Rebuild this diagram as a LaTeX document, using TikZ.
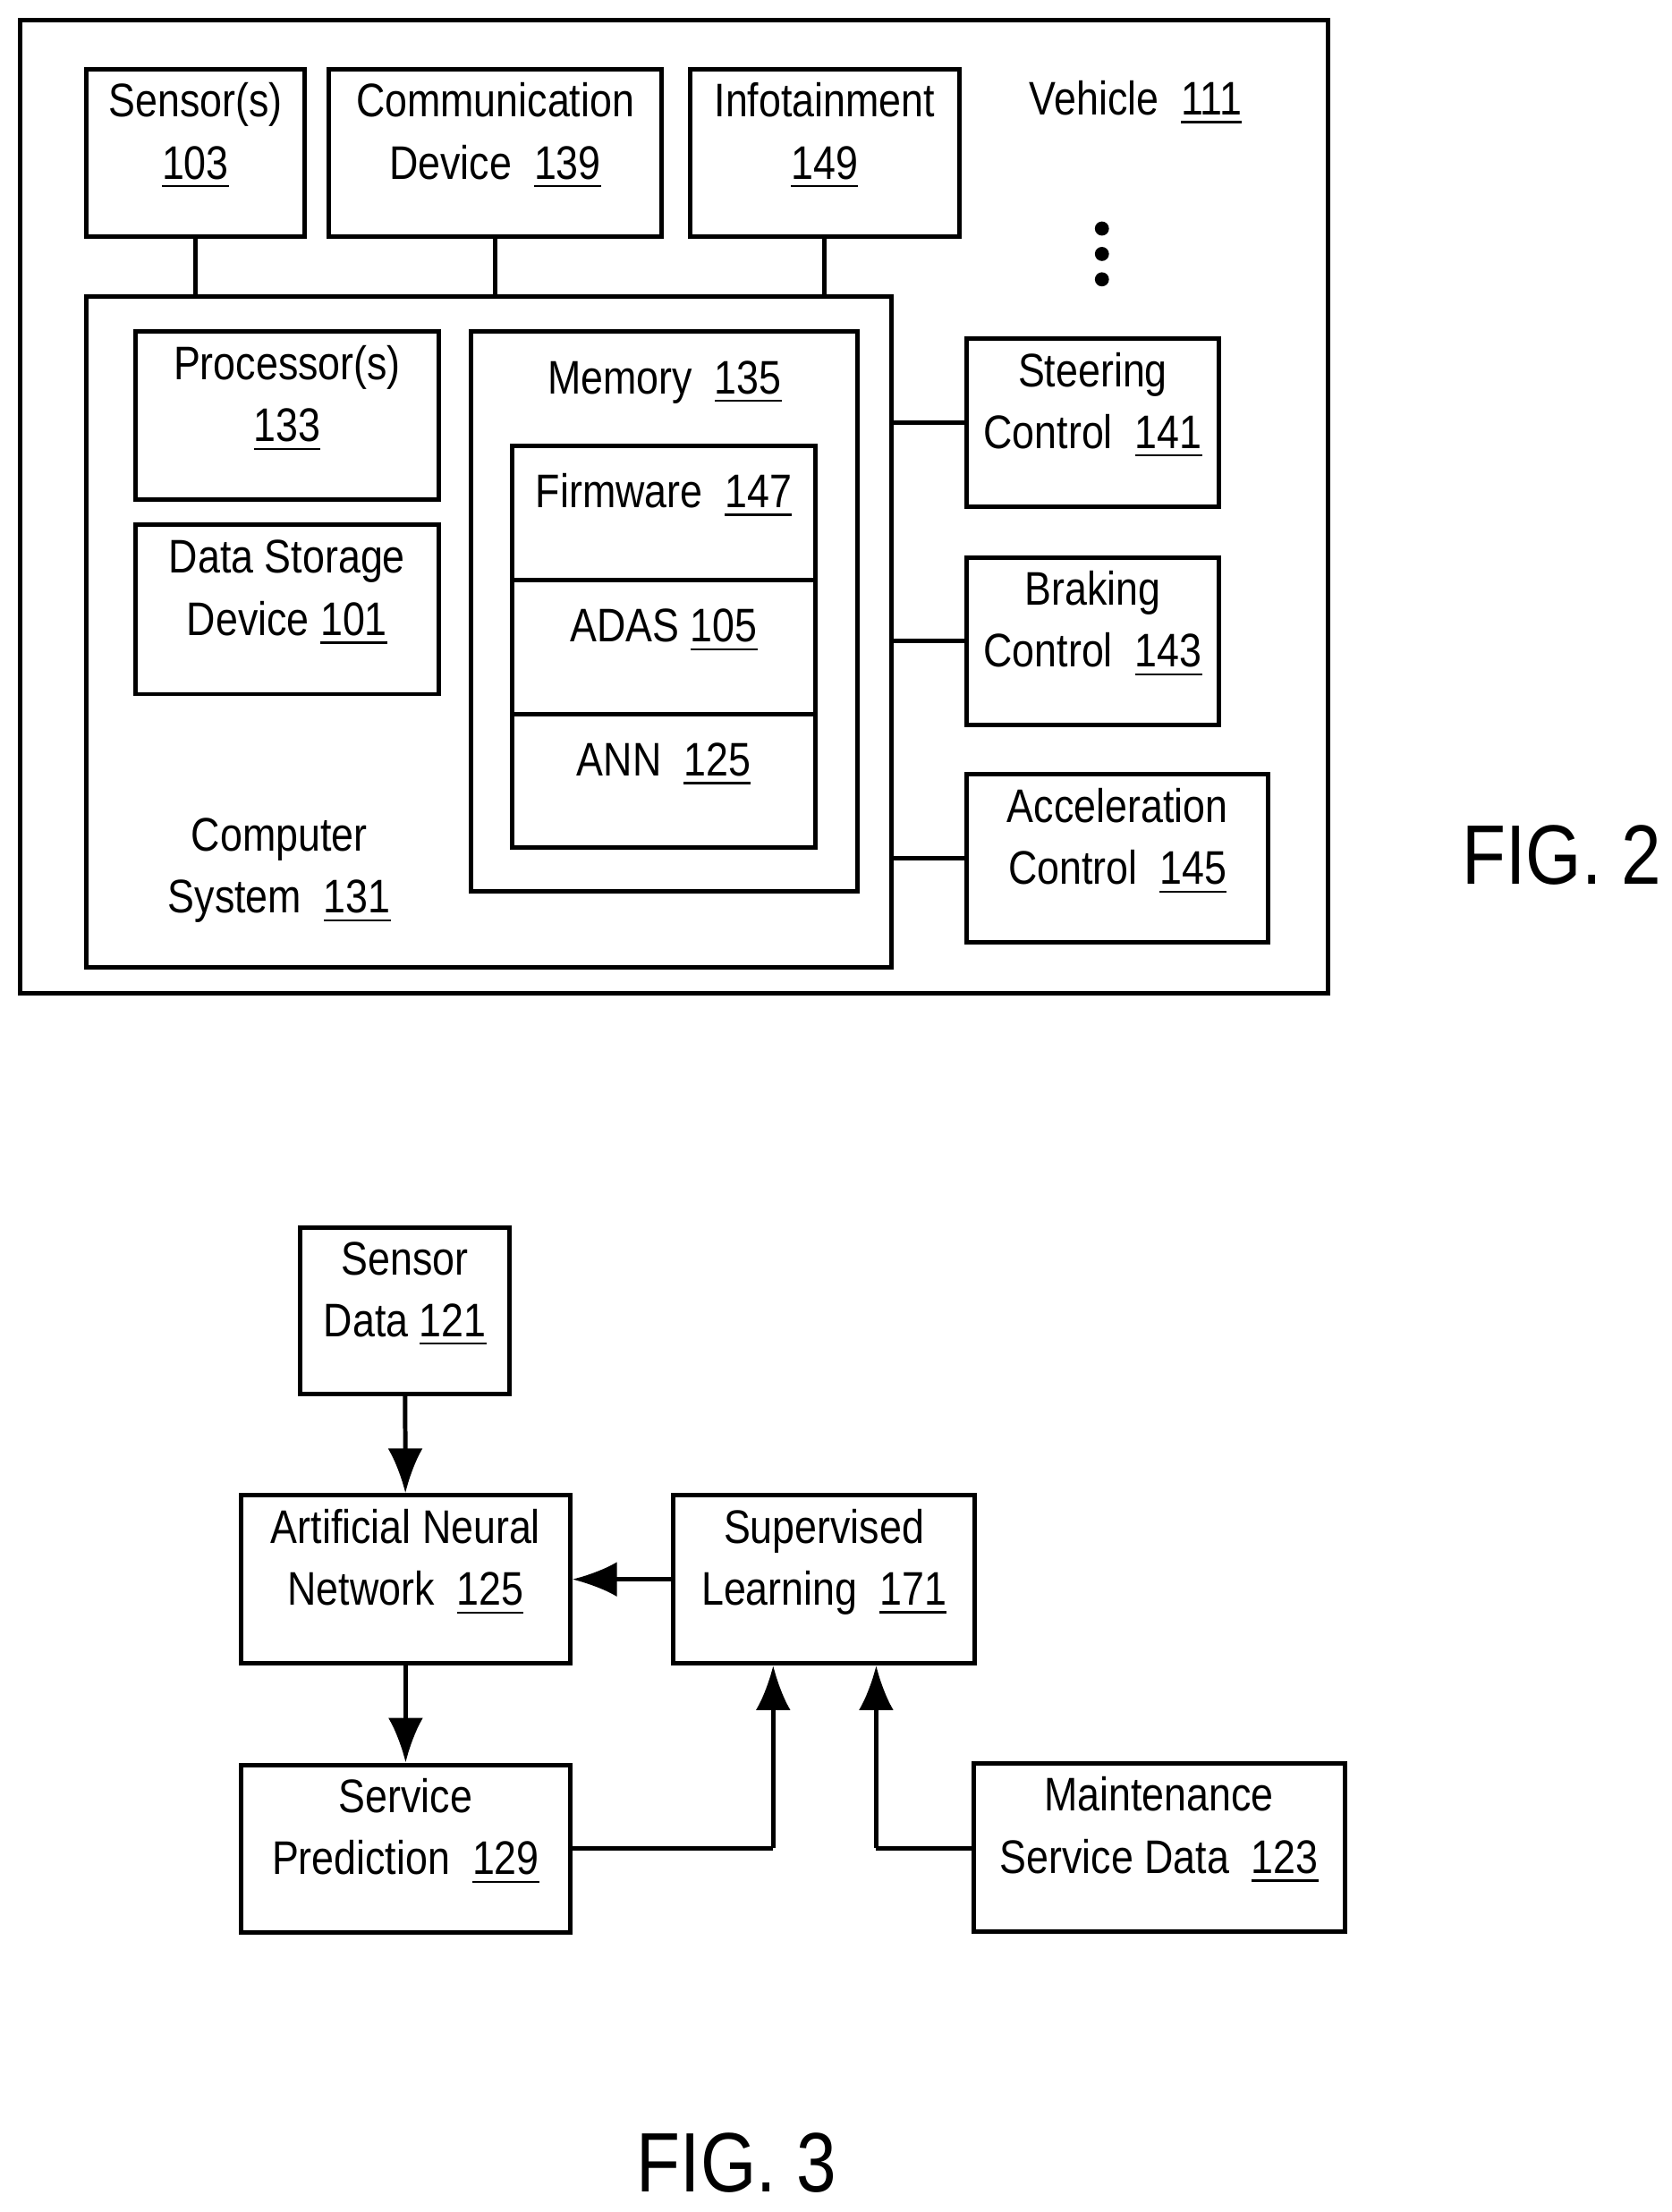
\documentclass[tikz,border=0pt]{standalone}
\usepackage{fontspec}
\setmainfont{Liberation Sans}[FakeStretch=0.85]
\usetikzlibrary{fit,arrows.meta}
\newcommand{\refnum}[1]{\underline{#1}}
\begin{document}
\begin{tikzpicture}[x=0.01cm,y=-0.01cm,
  box/.style={draw,line width=0.9pt,inner sep=0pt,align=center,font=\fontsize{9.5pt}{12.5pt}\selectfont},
  lbl/.style={align=center,font=\fontsize{9.5pt}{12.5pt}\selectfont},
  wire/.style={line width=0.9pt},
  flow/.style={line width=0.9pt,-{Latex[length=9pt,width=7pt]}}]
\useasboundingbox (0,0) rectangle (1185,1568);

% FIG. 2
\node[box,fit={(14,14)(941,704)}] (veh) {};
\node[lbl] (vehl) at (805,73) {Vehicle\ \ \refnum{111}};
\node[box,fit={(61,49)(216,168)}] (sens) {Sensor(s)\\\refnum{103}};
\node[box,fit={(233,49)(469,168)}] (comm) {Communication\\Device\ \ \refnum{139}};
\node[box,fit={(489,49)(680,168)}] (info) {Infotainment\\\refnum{149}};
\foreach \y/\n in {162/a,180/b,198/c}
  \fill (781,\y) circle (5) coordinate (dot\n);

\node[box,fit={(61,210)(632,686)}] (comp) {};
\node[lbl] (compl) at (198,617) {Computer\\System\ \ \refnum{131}};
\node[box,fit={(96,235)(311,354)}] (proc) {Processor(s)\\\refnum{133}};
\node[box,fit={(96,372)(311,492)}] (data) {Data Storage\\Device \refnum{101}};
\node[box,fit={(334,235)(608,632)}] (mem) {};
\node[lbl] (meml) at (471,271) {Memory\ \ \refnum{135}};
\node[box,fit={(363,316)(578,411)}] (firm) {Firmware\ \ \refnum{147}};
\node[box,fit={(363,411)(578,506)}] (adas) {ADAS \refnum{105}};
\node[box,fit={(363,506)(578,601)}] (ann) {ANN\ \ \refnum{125}};

\node[box,fit={(685,240)(864,359)}] (steer) {Steering\\Control\ \ \refnum{141}};
\node[box,fit={(685,395)(864,514)}] (brake) {Braking\\Control\ \ \refnum{143}};
\node[box,fit={(685,549)(899,668)}] (accel) {Acceleration\\Control\ \ \refnum{145}};

\draw[wire] (sens.south) -- (sens.south |- comp.north);
\draw[wire] (comm.south) -- (comm.south |- comp.north);
\draw[wire] (info.south) -- (info.south |- comp.north);
\draw[wire] (steer.west) -- (steer.west -| comp.east);
\draw[wire] (brake.west) -- (brake.west -| comp.east);
\draw[wire] (accel.west) -- (accel.west -| comp.east);

\node[font=\fontsize{17pt}{20pt}\selectfont] (fig2) at (1107,606) {FIG. 2};

% FIG. 3
\node[box,fit={(213,870)(361,988)}] (sdata) {Sensor\\Data \refnum{121}};
\node[box,fit={(171,1060)(404,1179)}] (net) {Artificial Neural\\Network\ \ \refnum{125}};
\node[box,fit={(477,1060)(691,1179)}] (sup) {Supervised\\Learning\ \ \refnum{171}};
\node[box,fit={(171,1251)(404,1370)}] (pred) {Service\\Prediction\ \ \refnum{129}};
\node[box,fit={(690,1250)(953,1369)}] (maint) {Maintenance\\Service Data\ \ \refnum{123}};
\coordinate (ja) at (548,1310);
\coordinate (jb) at (621,1310);

\draw[flow] (sdata) -- (net);
\draw[flow] (net) -- (pred);
\draw[flow] (sup) -- (net);
\draw[wire] (pred.east |- ja) -- (ja);
\draw[flow] (ja) -- (ja |- sup.south);
\draw[wire] (maint.west |- jb) -- (jb);
\draw[flow] (jb) -- (jb |- sup.south);

\node[font=\fontsize{17pt}{20pt}\selectfont] (fig3) at (522,1533) {FIG. 3};
\end{tikzpicture}
\end{document}
